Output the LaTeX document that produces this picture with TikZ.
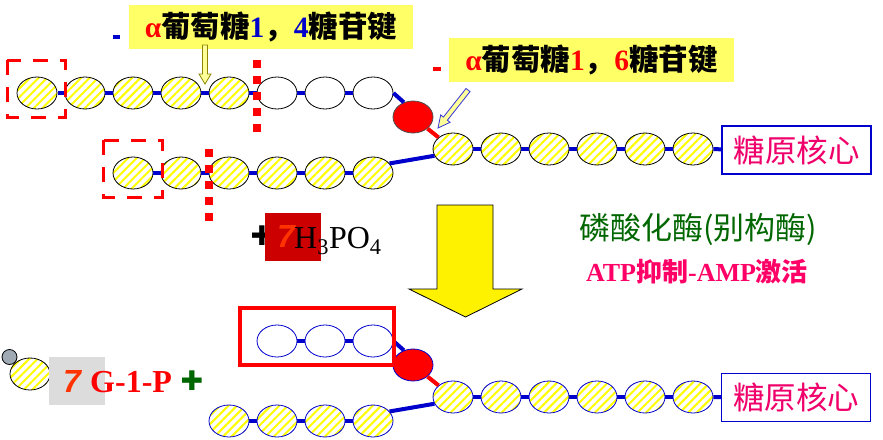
\documentclass[tikz,border=0pt]{standalone}
\usepackage{fontspec}
\setmainfont{Liberation Serif}
\newfontfamily\cjk{Noto Sans CJK SC}
\newfontfamily\sansf{Liberation Sans}
\newfontfamily\dejavu{DejaVu Sans}
\usetikzlibrary{shapes.geometric,patterns.meta}
\definecolor{lblue}{HTML}{0000CC}
\definecolor{lbox}{HTML}{FFFF66}
\definecolor{pinkt}{HTML}{F0006A}
\definecolor{gtext}{HTML}{006600}
\definecolor{atpc}{HTML}{FF0066}
\definecolor{orng}{HTML}{FF3300}
\definecolor{dred}{HTML}{CC0000}
\definecolor{gbox}{HTML}{DCDCDC}
\definecolor{gcirc}{HTML}{A0AAB4}
\definecolor{arrfill}{HTML}{FFFF99}
\begin{document}
\begin{tikzpicture}[x=1pt,y=-1pt,
  glc/.style={ellipse, draw=black, line width=0.8pt, minimum width=40pt, minimum height=32pt, inner sep=0pt,
    pattern={Lines[angle=45,distance=6pt,line width=2pt]}, pattern color=yellow},
  glcb/.style={glc, draw=lblue},
  wht/.style={ellipse, draw=black, line width=0.8pt, minimum width=40pt, minimum height=32pt, inner sep=0pt, fill=white},
  whtb/.style={wht, draw=lblue},
  redc/.style={ellipse, draw=black!70, line width=0.8pt, fill=red, minimum width=40pt, minimum height=32pt, inner sep=0pt},
  redcb/.style={redc, draw=lblue},
  link/.style={draw=lblue, line width=4pt},
  redlink/.style={draw=red, line width=4pt},
  core/.style={draw=lblue, line width=1.2pt, fill=white, minimum width=149pt, minimum height=48pt, inner sep=0pt,
    text=pinkt, font=\cjk\fontsize{31.5}{33}\selectfont},
  lbl/.style={fill=lbox, minimum height=44pt, inner sep=0pt, font=\bfseries\fontsize{29.5}{31}\selectfont},
  reddash/.style={draw=red, line width=3pt, dash pattern=on 15pt off 12pt},
  reddot/.style={draw=red, line width=8pt, dash pattern=on 8pt off 8pt},
  smallarr/.style={fill=arrfill, line width=0.8pt},
  bigarr/.style={fill=yellow, draw=black, line width=0.8pt},
  plussign/.style={font=\dejavu\fontsize{27}{27}\selectfont, inner sep=0pt},
  seven/.style={text=orng, font=\sansf\bfseries\itshape\fontsize{32}{32}\selectfont, inner sep=0pt}
]
\useasboundingbox (0,0) rectangle (883,439);

% ---------------- top structure ----------------
\foreach \i/\x in {1/37,2/85,3/133,4/181,5/229} \node[glc] (a\i) at (\x,93) {};
\foreach \i/\x in {6/277,7/325,8/373} \node[wht] (a\i) at (\x,93) {};
\node[redc] (r) at (413,117) {};
\foreach \i/\x in {1/453,2/501,3/549,4/597,5/645,6/693} \node[glc] (m\i) at (\x,149) {};
\foreach \i/\x in {1/133,2/181,3/229,4/277,5/325,6/373} \node[glc] (b\i) at (\x,173) {};
\node[core] (c1) at (796.5,150) {糖原核心};

\foreach \i/\j in {1/2,2/3,3/4,4/5,5/6,6/7,7/8} \draw[link] (a\i) -- (a\j);
\foreach \i/\j in {1/2,2/3,3/4,4/5,5/6} \draw[link] (m\i) -- (m\j);
\foreach \i/\j in {1/2,2/3,3/4,4/5,5/6} \draw[link] (b\i) -- (b\j);
\draw[link] (m6) -- (c1);
\draw[link] (a8.east) -- (r.122);
\draw[redlink] (r) -- (m1);
\draw[link] (b6.30) -- (m1.200);

% dashed boxes and dotted cuts
\draw[reddash] (7,60) rectangle (65,117);
\draw[reddash] (103,140) rectangle (162,197);
\draw[reddot] (257,60) -- (257,132);
\draw[reddot] (209,149) -- (209,222);

% labels
\fill[lblue] (113,35) rectangle (120,39);
\node[lbl, minimum width=284pt] (l1) at (271,27)
  {{\color{red}α}{\cjk 葡萄糖}{\color{lblue}1}{\cjk ，}{\color{lblue}4}{\cjk 糖苷键}};
\fill[red] (433,67) rectangle (441,71);
\node[lbl, minimum width=285pt] (l2) at (591.5,59.5)
  {{\color{red}α}{\cjk 葡萄糖}{\color{red}1}{\cjk ，}{\color{red}6}{\cjk 糖苷键}};

% small arrows
\draw[smallarr, draw=olive] (202.5,45) -- (207.5,45) -- (207.5,74) -- (211,74) -- (205,84) -- (199,74) -- (202.5,74) -- cycle;
\draw[smallarr, draw=lblue!80] (470.0,91.6) -- (447.4,120.2) -- (450.1,122.3) -- (438,128) -- (440.7,114.9) -- (443.4,117.1) -- (466.0,88.5) -- cycle;

% ---------------- middle ----------------
\node[plussign] (pl1) at (262,236) {✚};
\node[fill=dred, minimum width=56pt, minimum height=48pt, inner sep=0pt] (pb) at (293,237) {};
\node[seven] (s1) at (286,236) {7};
\node[anchor=base west, inner sep=0pt, font=\fontsize{32}{34}\selectfont] (h3) at (294,248) {H\textsubscript{3}PO\textsubscript{4}};

\draw[bigarr] (437,205) -- (493,205) -- (493,289) -- (522,289) -- (465.5,317) -- (409,289) -- (437,289) -- cycle;

\node[text=gtext, font=\cjk\fontsize{31}{33}\selectfont] (enz) at (698,230) {磷酸化酶(别构酶)};
\node[text=atpc, font=\bfseries\fontsize{26}{28}\selectfont] (reg) at (697,272) {ATP{\cjk 抑制}-AMP{\cjk 激活}};

% ---------------- bottom left ----------------
\node[circle, draw=black, line width=0.8pt, fill=gcirc, minimum size=15pt, inner sep=0pt] (gc) at (9.5,357) {};
\node[glc] (g1) at (30,374) {};
\node[fill=gbox, minimum width=56pt, minimum height=48pt, inner sep=0pt] (gb) at (77,381) {};
\node[seven] (s2) at (72,381) {7};
\node[anchor=base west, inner sep=0pt, text=red, font=\bfseries\fontsize{32}{34}\selectfont] (g1p) at (90,392) {G-1-P};
\node[plussign, text=gtext] (pl2) at (192,381) {✚};

% ---------------- bottom structure ----------------
\foreach \i/\x in {6/277,7/325,8/373} \node[whtb] (ba\i) at (\x,341) {};
\node[redcb] (br) at (413,365) {};
\foreach \i/\x in {1/453,2/501,3/549,4/597,5/645,6/693} \node[glcb] (bm\i) at (\x,397) {};
\foreach \i/\x in {3/229,4/277,5/325,6/373} \node[glcb] (bb\i) at (\x,421) {};
\node[core] (c2) at (796,397.5) {糖原核心};

\foreach \i/\j in {6/7,7/8} \draw[link] (ba\i) -- (ba\j);
\foreach \i/\j in {1/2,2/3,3/4,4/5,5/6} \draw[link] (bm\i) -- (bm\j);
\foreach \i/\j in {3/4,4/5,5/6} \draw[link] (bb\i) -- (bb\j);
\draw[link] (bm6) -- (c2);
\draw[link] (ba8.east) -- (br.122);
\draw[redlink] (br) -- (bm1);
\draw[link] (bb6.30) -- (bm1.200);
\draw[draw=red, line width=4pt] (240,308) rectangle (394,365);
\end{tikzpicture}
\end{document}
